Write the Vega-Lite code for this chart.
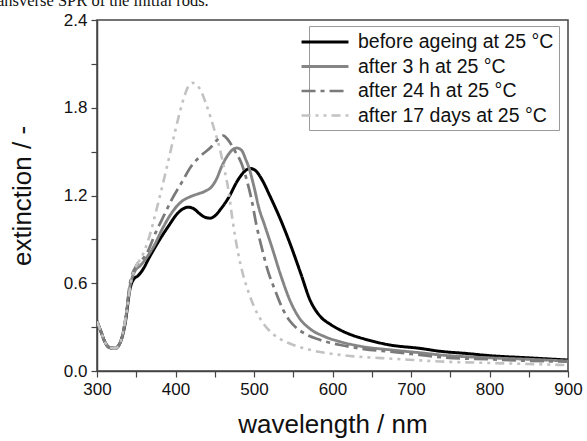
{
  "$schema": "https://vega.github.io/schema/vega-lite/v6.json",
  "width": 471,
  "height": 351,
  "autosize": "none",
  "padding": {"left": 97, "top": 20, "right": 19, "bottom": 70},
  "background": "white",
  "config": {
    "font": "Liberation Sans",
    "view": {"stroke": "#444444", "strokeWidth": 1.5},
    "axis": {
      "domainColor": "#444444",
      "domainWidth": 1.5,
      "tickColor": "#444444",
      "tickWidth": 1.2,
      "tickSize": 6,
      "grid": false,
      "labelFont": "Liberation Sans",
      "labelFontSize": 17,
      "labelColor": "#111111",
      "titleFont": "Liberation Sans",
      "titleFontSize": 26,
      "titleFontWeight": "normal",
      "titleColor": "#111111"
    }
  },
  "title": {
    "text": "ansverse SPR of the initial rods.",
    "font": "Liberation Serif",
    "fontSize": 16.5,
    "fontWeight": "normal",
    "color": "#111111",
    "anchor": "start",
    "frame": "group",
    "baseline": "alphabetic",
    "dx": -100,
    "offset": -11
  },
  "data": {
    "values": [
      {"s": "before ageing at 25 °C", "w": 300, "e": 0.34},
      {"s": "before ageing at 25 °C", "w": 305, "e": 0.27},
      {"s": "before ageing at 25 °C", "w": 310, "e": 0.2},
      {"s": "before ageing at 25 °C", "w": 316, "e": 0.16},
      {"s": "before ageing at 25 °C", "w": 323, "e": 0.155},
      {"s": "before ageing at 25 °C", "w": 330, "e": 0.2},
      {"s": "before ageing at 25 °C", "w": 336, "e": 0.33},
      {"s": "before ageing at 25 °C", "w": 342, "e": 0.56},
      {"s": "before ageing at 25 °C", "w": 347, "e": 0.63},
      {"s": "before ageing at 25 °C", "w": 352, "e": 0.65},
      {"s": "before ageing at 25 °C", "w": 358, "e": 0.69},
      {"s": "before ageing at 25 °C", "w": 367, "e": 0.78},
      {"s": "before ageing at 25 °C", "w": 380, "e": 0.9},
      {"s": "before ageing at 25 °C", "w": 391, "e": 0.99},
      {"s": "before ageing at 25 °C", "w": 403, "e": 1.08},
      {"s": "before ageing at 25 °C", "w": 410, "e": 1.11},
      {"s": "before ageing at 25 °C", "w": 416, "e": 1.12},
      {"s": "before ageing at 25 °C", "w": 423, "e": 1.11},
      {"s": "before ageing at 25 °C", "w": 432, "e": 1.07},
      {"s": "before ageing at 25 °C", "w": 438, "e": 1.05},
      {"s": "before ageing at 25 °C", "w": 444, "e": 1.045},
      {"s": "before ageing at 25 °C", "w": 450, "e": 1.06},
      {"s": "before ageing at 25 °C", "w": 458, "e": 1.11},
      {"s": "before ageing at 25 °C", "w": 467, "e": 1.18},
      {"s": "before ageing at 25 °C", "w": 480, "e": 1.31},
      {"s": "before ageing at 25 °C", "w": 489, "e": 1.37},
      {"s": "before ageing at 25 °C", "w": 495, "e": 1.385},
      {"s": "before ageing at 25 °C", "w": 502, "e": 1.37},
      {"s": "before ageing at 25 °C", "w": 510, "e": 1.31},
      {"s": "before ageing at 25 °C", "w": 520, "e": 1.2},
      {"s": "before ageing at 25 °C", "w": 535, "e": 1.02},
      {"s": "before ageing at 25 °C", "w": 546, "e": 0.87},
      {"s": "before ageing at 25 °C", "w": 560, "e": 0.66},
      {"s": "before ageing at 25 °C", "w": 571, "e": 0.49},
      {"s": "before ageing at 25 °C", "w": 585, "e": 0.37},
      {"s": "before ageing at 25 °C", "w": 597, "e": 0.32},
      {"s": "before ageing at 25 °C", "w": 610, "e": 0.28},
      {"s": "before ageing at 25 °C", "w": 625, "e": 0.245},
      {"s": "before ageing at 25 °C", "w": 640, "e": 0.22},
      {"s": "before ageing at 25 °C", "w": 673, "e": 0.178},
      {"s": "before ageing at 25 °C", "w": 711, "e": 0.155},
      {"s": "before ageing at 25 °C", "w": 737, "e": 0.135},
      {"s": "before ageing at 25 °C", "w": 770, "e": 0.12},
      {"s": "before ageing at 25 °C", "w": 800, "e": 0.105},
      {"s": "before ageing at 25 °C", "w": 850, "e": 0.09},
      {"s": "before ageing at 25 °C", "w": 900, "e": 0.075},

      {"s": "after 3 h at 25 °C", "w": 300, "e": 0.34},
      {"s": "after 3 h at 25 °C", "w": 305, "e": 0.27},
      {"s": "after 3 h at 25 °C", "w": 310, "e": 0.2},
      {"s": "after 3 h at 25 °C", "w": 316, "e": 0.16},
      {"s": "after 3 h at 25 °C", "w": 323, "e": 0.155},
      {"s": "after 3 h at 25 °C", "w": 330, "e": 0.2},
      {"s": "after 3 h at 25 °C", "w": 336, "e": 0.34},
      {"s": "after 3 h at 25 °C", "w": 342, "e": 0.58},
      {"s": "after 3 h at 25 °C", "w": 348, "e": 0.68},
      {"s": "after 3 h at 25 °C", "w": 355, "e": 0.72},
      {"s": "after 3 h at 25 °C", "w": 365, "e": 0.79},
      {"s": "after 3 h at 25 °C", "w": 372, "e": 0.85},
      {"s": "after 3 h at 25 °C", "w": 385, "e": 0.99},
      {"s": "after 3 h at 25 °C", "w": 395, "e": 1.08},
      {"s": "after 3 h at 25 °C", "w": 408, "e": 1.16},
      {"s": "after 3 h at 25 °C", "w": 418, "e": 1.19},
      {"s": "after 3 h at 25 °C", "w": 428, "e": 1.21},
      {"s": "after 3 h at 25 °C", "w": 438, "e": 1.23},
      {"s": "after 3 h at 25 °C", "w": 446, "e": 1.26},
      {"s": "after 3 h at 25 °C", "w": 452, "e": 1.31},
      {"s": "after 3 h at 25 °C", "w": 459, "e": 1.4},
      {"s": "after 3 h at 25 °C", "w": 466, "e": 1.47},
      {"s": "after 3 h at 25 °C", "w": 472, "e": 1.51},
      {"s": "after 3 h at 25 °C", "w": 478, "e": 1.525},
      {"s": "after 3 h at 25 °C", "w": 484, "e": 1.51},
      {"s": "after 3 h at 25 °C", "w": 490, "e": 1.44},
      {"s": "after 3 h at 25 °C", "w": 493, "e": 1.4},
      {"s": "after 3 h at 25 °C", "w": 500, "e": 1.26},
      {"s": "after 3 h at 25 °C", "w": 506, "e": 1.12},
      {"s": "after 3 h at 25 °C", "w": 514, "e": 0.99},
      {"s": "after 3 h at 25 °C", "w": 522, "e": 0.86},
      {"s": "after 3 h at 25 °C", "w": 535, "e": 0.64},
      {"s": "after 3 h at 25 °C", "w": 546, "e": 0.48},
      {"s": "after 3 h at 25 °C", "w": 558, "e": 0.36},
      {"s": "after 3 h at 25 °C", "w": 571, "e": 0.29},
      {"s": "after 3 h at 25 °C", "w": 590, "e": 0.235},
      {"s": "after 3 h at 25 °C", "w": 610, "e": 0.2},
      {"s": "after 3 h at 25 °C", "w": 640, "e": 0.165},
      {"s": "after 3 h at 25 °C", "w": 673, "e": 0.145},
      {"s": "after 3 h at 25 °C", "w": 711, "e": 0.125},
      {"s": "after 3 h at 25 °C", "w": 737, "e": 0.11},
      {"s": "after 3 h at 25 °C", "w": 800, "e": 0.09},
      {"s": "after 3 h at 25 °C", "w": 850, "e": 0.08},
      {"s": "after 3 h at 25 °C", "w": 900, "e": 0.068},

      {"s": "after 24 h at 25 °C", "w": 300, "e": 0.34},
      {"s": "after 24 h at 25 °C", "w": 305, "e": 0.27},
      {"s": "after 24 h at 25 °C", "w": 310, "e": 0.2},
      {"s": "after 24 h at 25 °C", "w": 316, "e": 0.16},
      {"s": "after 24 h at 25 °C", "w": 323, "e": 0.155},
      {"s": "after 24 h at 25 °C", "w": 330, "e": 0.2},
      {"s": "after 24 h at 25 °C", "w": 336, "e": 0.35},
      {"s": "after 24 h at 25 °C", "w": 342, "e": 0.6},
      {"s": "after 24 h at 25 °C", "w": 350, "e": 0.72},
      {"s": "after 24 h at 25 °C", "w": 357, "e": 0.76},
      {"s": "after 24 h at 25 °C", "w": 363, "e": 0.8},
      {"s": "after 24 h at 25 °C", "w": 375, "e": 0.95},
      {"s": "after 24 h at 25 °C", "w": 385, "e": 1.06},
      {"s": "after 24 h at 25 °C", "w": 395, "e": 1.17},
      {"s": "after 24 h at 25 °C", "w": 408, "e": 1.29},
      {"s": "after 24 h at 25 °C", "w": 420, "e": 1.4},
      {"s": "after 24 h at 25 °C", "w": 432, "e": 1.47},
      {"s": "after 24 h at 25 °C", "w": 445, "e": 1.53},
      {"s": "after 24 h at 25 °C", "w": 453, "e": 1.58},
      {"s": "after 24 h at 25 °C", "w": 461, "e": 1.61},
      {"s": "after 24 h at 25 °C", "w": 467, "e": 1.58},
      {"s": "after 24 h at 25 °C", "w": 475, "e": 1.51},
      {"s": "after 24 h at 25 °C", "w": 484, "e": 1.42},
      {"s": "after 24 h at 25 °C", "w": 490, "e": 1.32},
      {"s": "after 24 h at 25 °C", "w": 497, "e": 1.17},
      {"s": "after 24 h at 25 °C", "w": 503, "e": 1.0},
      {"s": "after 24 h at 25 °C", "w": 510, "e": 0.84},
      {"s": "after 24 h at 25 °C", "w": 518, "e": 0.68},
      {"s": "after 24 h at 25 °C", "w": 527, "e": 0.55},
      {"s": "after 24 h at 25 °C", "w": 537, "e": 0.42},
      {"s": "after 24 h at 25 °C", "w": 546, "e": 0.34},
      {"s": "after 24 h at 25 °C", "w": 555, "e": 0.29},
      {"s": "after 24 h at 25 °C", "w": 565, "e": 0.255},
      {"s": "after 24 h at 25 °C", "w": 580, "e": 0.22},
      {"s": "after 24 h at 25 °C", "w": 610, "e": 0.178},
      {"s": "after 24 h at 25 °C", "w": 640, "e": 0.15},
      {"s": "after 24 h at 25 °C", "w": 673, "e": 0.132},
      {"s": "after 24 h at 25 °C", "w": 711, "e": 0.11},
      {"s": "after 24 h at 25 °C", "w": 737, "e": 0.095},
      {"s": "after 24 h at 25 °C", "w": 800, "e": 0.08},
      {"s": "after 24 h at 25 °C", "w": 850, "e": 0.07},
      {"s": "after 24 h at 25 °C", "w": 900, "e": 0.064},

      {"s": "after 17 days at 25 °C", "w": 300, "e": 0.34},
      {"s": "after 17 days at 25 °C", "w": 305, "e": 0.27},
      {"s": "after 17 days at 25 °C", "w": 310, "e": 0.2},
      {"s": "after 17 days at 25 °C", "w": 316, "e": 0.16},
      {"s": "after 17 days at 25 °C", "w": 323, "e": 0.155},
      {"s": "after 17 days at 25 °C", "w": 330, "e": 0.2},
      {"s": "after 17 days at 25 °C", "w": 337, "e": 0.38},
      {"s": "after 17 days at 25 °C", "w": 343, "e": 0.6},
      {"s": "after 17 days at 25 °C", "w": 350, "e": 0.72},
      {"s": "after 17 days at 25 °C", "w": 357, "e": 0.78},
      {"s": "after 17 days at 25 °C", "w": 365, "e": 0.89},
      {"s": "after 17 days at 25 °C", "w": 378, "e": 1.15},
      {"s": "after 17 days at 25 °C", "w": 391, "e": 1.44},
      {"s": "after 17 days at 25 °C", "w": 400, "e": 1.65},
      {"s": "after 17 days at 25 °C", "w": 406, "e": 1.78},
      {"s": "after 17 days at 25 °C", "w": 412, "e": 1.89},
      {"s": "after 17 days at 25 °C", "w": 418, "e": 1.96},
      {"s": "after 17 days at 25 °C", "w": 422, "e": 1.97},
      {"s": "after 17 days at 25 °C", "w": 428, "e": 1.95},
      {"s": "after 17 days at 25 °C", "w": 433, "e": 1.91},
      {"s": "after 17 days at 25 °C", "w": 438, "e": 1.84},
      {"s": "after 17 days at 25 °C", "w": 445, "e": 1.73},
      {"s": "after 17 days at 25 °C", "w": 450, "e": 1.64},
      {"s": "after 17 days at 25 °C", "w": 455, "e": 1.55},
      {"s": "after 17 days at 25 °C", "w": 461, "e": 1.41},
      {"s": "after 17 days at 25 °C", "w": 467, "e": 1.25},
      {"s": "after 17 days at 25 °C", "w": 473, "e": 1.02},
      {"s": "after 17 days at 25 °C", "w": 480, "e": 0.8},
      {"s": "after 17 days at 25 °C", "w": 486, "e": 0.66},
      {"s": "after 17 days at 25 °C", "w": 493, "e": 0.54},
      {"s": "after 17 days at 25 °C", "w": 500, "e": 0.44},
      {"s": "after 17 days at 25 °C", "w": 510, "e": 0.34},
      {"s": "after 17 days at 25 °C", "w": 525, "e": 0.25},
      {"s": "after 17 days at 25 °C", "w": 540, "e": 0.2},
      {"s": "after 17 days at 25 °C", "w": 552, "e": 0.175},
      {"s": "after 17 days at 25 °C", "w": 571, "e": 0.145},
      {"s": "after 17 days at 25 °C", "w": 610, "e": 0.11},
      {"s": "after 17 days at 25 °C", "w": 640, "e": 0.095},
      {"s": "after 17 days at 25 °C", "w": 673, "e": 0.085},
      {"s": "after 17 days at 25 °C", "w": 737, "e": 0.065},
      {"s": "after 17 days at 25 °C", "w": 800, "e": 0.055},
      {"s": "after 17 days at 25 °C", "w": 850, "e": 0.048},
      {"s": "after 17 days at 25 °C", "w": 900, "e": 0.04}
    ]
  },
  "mark": {"type": "line", "interpolate": "monotone", "strokeCap": "butt", "clip": true},
  "encoding": {
    "x": {
      "field": "w",
      "type": "quantitative",
      "scale": {"domain": [300, 900], "nice": false, "zero": false},
      "axis": {
        "title": "wavelength / nm",
        "values": [300, 350, 400, 450, 500, 550, 600, 650, 700, 750, 800, 850, 900],
        "labelExpr": "datum.value % 100 == 0 ? datum.label : ''",
        "labelPadding": 4,
        "titlePadding": 14,
        "labelFlush": false,
        "labelOverlap": false
      }
    },
    "y": {
      "field": "e",
      "type": "quantitative",
      "scale": {"domain": [0, 2.4], "nice": false},
      "axis": {
        "title": "extinction / -",
        "values": [0, 0.3, 0.6, 0.9, 1.2, 1.5, 1.8, 2.1, 2.4],
        "format": ".1f",
        "labelExpr": "round(datum.value * 10) % 6 == 0 ? datum.label : ''",
        "labelPadding": 4,
        "titlePadding": 28,
        "labelFlush": false,
        "labelOverlap": false
      }
    },
    "color": {
      "field": "s",
      "type": "nominal",
      "scale": {
        "domain": ["before ageing at 25 °C", "after 3 h at 25 °C", "after 24 h at 25 °C", "after 17 days at 25 °C"],
        "range": ["#000000", "#858585", "#7a7a7a", "#c2c2c2"]
      },
      "legend": {
        "title": null,
        "orient": "none",
        "legendX": 212,
        "legendY": 6,
        "padding": 5,
        "strokeColor": "#999999",
        "fillColor": "white",
        "symbolType": "M-2.47,0H2.47",
        "symbolSize": 361,
        "labelFont": "Liberation Sans",
        "labelFontSize": 19.5,
        "labelColor": "#111111",
        "labelOffset": 22,
        "rowPadding": 3.5,
        "labelLimit": 400
      }
    },
    "strokeDash": {
      "field": "s",
      "type": "nominal",
      "scale": {
        "domain": ["before ageing at 25 °C", "after 3 h at 25 °C", "after 24 h at 25 °C", "after 17 days at 25 °C"],
        "range": [[1, 0], [1, 0], [14, 5, 4, 5], [9, 5, 3, 5, 3, 5]]
      },
      "legend": null
    },
    "strokeWidth": {
      "field": "s",
      "type": "nominal",
      "scale": {
        "domain": ["before ageing at 25 °C", "after 3 h at 25 °C", "after 24 h at 25 °C", "after 17 days at 25 °C"],
        "range": [3, 2.6, 3, 3]
      },
      "legend": null
    }
  }
}
